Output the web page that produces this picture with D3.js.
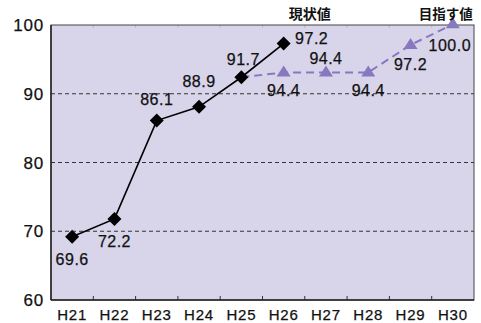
<!DOCTYPE html>
<html>
<head>
<meta charset="utf-8">
<script src="https://cdn.jsdelivr.net/npm/d3@7"></script>
<style>
  body { margin: 0; background: #fff; }
  text { font-family: "Liberation Sans", Arial, sans-serif; fill: #111; }
  .num { stroke: #111; stroke-width: 0.25px; }
</style>
</head>
<body>
<div id="chart"></div>
<script>
// categories (fiscal years)
const years = ["H21", "H22", "H23", "H24", "H25", "H26", "H27", "H28", "H29", "H30"];

// current values (black line) - positions as drawn, printed labels
const currentYears = ["H21", "H22", "H23", "H24", "H25", "H26"];
const currentValues = [69.2, 71.8, 86.1, 88.1, 92.4, 97.3];
const currentLabels = ["69.6", "72.2", "86.1", "88.9", "91.7", "97.2"];

// target values (purple dashed line), starts from the H25 actual
const targetYears = ["H25", "H26", "H27", "H28", "H29", "H30"];
const targetValues = [92.4, 93.1, 93.1, 93.1, 97.1, 100.1];
const targetLabels = [null, "94.4", "94.4", "94.4", "97.2", "100.0"];

const yTicks = [60, 70, 80, 90, 100];

const margin = {top: 25, right: 7, bottom: 23, left: 51};
const W = 481, H = 323;
const width = W - margin.left - margin.right;
const height = H - margin.top - margin.bottom;

const svg = d3.select("#chart").append("svg")
    .attr("width", W)
    .attr("height", H);

const g = svg.append("g")
    .attr("transform", `translate(${margin.left},${margin.top})`);

const x = d3.scaleBand().domain(years).range([0, width]);
const y = d3.scaleLinear().domain([60, 100]).range([height, 0]);
const cx = d => x(d) + x.bandwidth() / 2;

// plot background
g.append("rect")
    .attr("width", width)
    .attr("height", height)
    .attr("fill", "#d8d4ea");

// grid lines
g.selectAll(".grid")
    .data(yTicks.filter(t => t > 60 && t < 100))
    .enter().append("line")
    .attr("x1", 0).attr("x2", width)
    .attr("y1", d => y(d)).attr("y2", d => y(d))
    .attr("stroke", "#333")
    .attr("stroke-width", 1)
    .attr("stroke-dasharray", "4,3");

// x tick marks (inside, bottom and top)
const bounds = years.slice(1).map(d => x(d));
g.selectAll(".xt")
    .data(bounds)
    .enter().append("line")
    .attr("x1", d => d).attr("x2", d => d)
    .attr("y1", height).attr("y2", height - 4)
    .attr("stroke", "#333");
g.selectAll(".xtt")
    .data(bounds)
    .enter().append("line")
    .attr("x1", d => d).attr("x2", d => d)
    .attr("y1", 0).attr("y2", 3)
    .attr("stroke", "#bbb");

// frame
g.append("rect")
    .attr("width", width)
    .attr("height", height)
    .attr("fill", "none")
    .attr("stroke", "#444")
    .attr("stroke-width", 1);
g.append("line")
    .attr("x1", 0).attr("x2", 0).attr("y1", 0).attr("y2", height)
    .attr("stroke", "#222").attr("stroke-width", 1.5);
g.append("line")
    .attr("x1", 0).attr("x2", width).attr("y1", height).attr("y2", height)
    .attr("stroke", "#222").attr("stroke-width", 1.5);

// y labels
g.selectAll(".yl")
    .data(yTicks)
    .enter().append("text")
    .attr("class", "num")
    .attr("x", -7)
    .attr("y", d => y(d))
    .attr("dy", "0.36em")
    .attr("text-anchor", "end")
    .style("font-size", "17px")
    .style("letter-spacing", "0.8px")
    .text(d => d);

// x labels
g.selectAll(".xl")
    .data(years)
    .enter().append("text")
    .attr("class", "num")
    .attr("x", d => cx(d))
    .attr("y", height + 20)
    .attr("text-anchor", "middle")
    .style("font-size", "15px")
    .style("letter-spacing", "0.8px")
    .text(d => d);

// target dashed line
const target = targetYears.map((d, i) => ({year: d, value: targetValues[i], label: targetLabels[i]}));
g.append("path")
    .datum(target)
    .attr("fill", "none")
    .attr("stroke", "#8878bf")
    .attr("stroke-width", 2)
    .attr("stroke-dasharray", "8,5")
    .attr("d", d3.line().x(d => cx(d.year)).y(d => y(d.value)));

g.selectAll(".tri")
    .data(target.slice(1))
    .enter().append("path")
    .attr("transform", d => `translate(${cx(d.year)},${y(d.value) - 1})`)
    .attr("d", "M0,-6L7,5L-7,5Z")
    .attr("fill", "#8878bf");

// current line
const current = currentYears.map((d, i) => ({year: d, value: currentValues[i], label: currentLabels[i]}));
g.append("path")
    .datum(current)
    .attr("fill", "none")
    .attr("stroke", "#000")
    .attr("stroke-width", 1.6)
    .attr("d", d3.line().x(d => cx(d.year)).y(d => y(d.value)));

g.selectAll(".dia")
    .data(current)
    .enter().append("path")
    .attr("transform", d => `translate(${cx(d.year)},${y(d.value)})`)
    .attr("d", "M0,-7L7,0L0,7L-7,0Z")
    .attr("fill", "#000");

// data labels: offsets per point
const curOff = [[0, 28], [0, 28], [0, -16], [0, -20], [2, -12], [28, 0]];
g.selectAll(".cl")
    .data(current)
    .enter().append("text")
    .attr("class", "num")
    .attr("x", (d, i) => cx(d.year) + curOff[i][0])
    .attr("y", (d, i) => y(d.value) + curOff[i][1])
    .attr("text-anchor", "middle")
    .style("font-size", "16px")
    .style("letter-spacing", "0.5px")
    .text(d => d.label);

const tgtOff = [[0, 24], [0, -8], [0, 24], [0, 25], [-3, 27]];
g.selectAll(".tl")
    .data(target.slice(1))
    .enter().append("text")
    .attr("class", "num")
    .attr("x", (d, i) => cx(d.year) + tgtOff[i][0])
    .attr("y", (d, i) => y(d.value) + tgtOff[i][1])
    .attr("text-anchor", "middle")
    .style("font-size", "16px")
    .style("letter-spacing", "0.5px")
    .text(d => d.label);

// series headers
svg.append("text")
    .attr("x", margin.left + cx("H26") + 26)
    .attr("y", 19)
    .attr("text-anchor", "middle")
    .style("font-family", "'Noto Sans CJK JP', sans-serif")
    .style("font-size", "14px")
    .style("font-weight", "bold")
    .text("現状値");
svg.append("text")
    .attr("x", margin.left + cx("H30") - 7)
    .attr("y", 19)
    .attr("text-anchor", "middle")
    .style("font-family", "'Noto Sans CJK JP', sans-serif")
    .style("font-size", "13.5px")
    .style("font-weight", "bold")
    .text("目指す値");
</script>
</body>
</html>
